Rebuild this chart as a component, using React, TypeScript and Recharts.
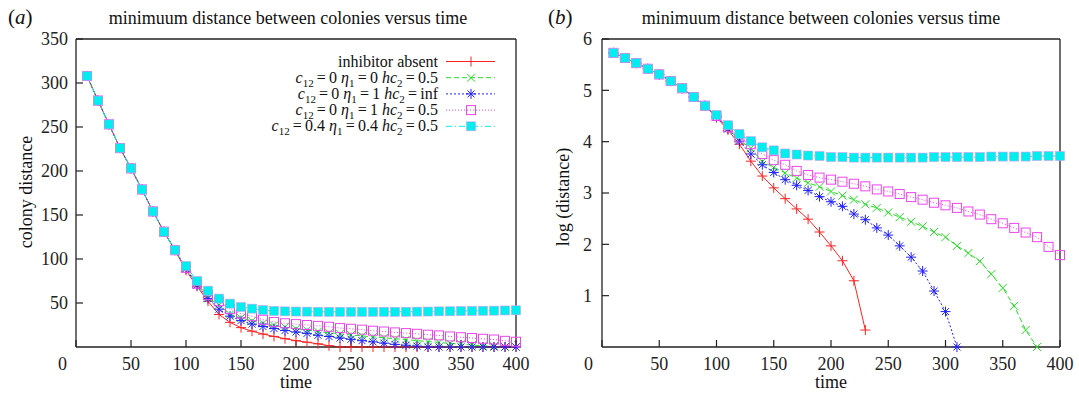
import React from 'react'
import { LineChart, Line, XAxis, YAxis, Legend } from 'recharts'

// sample times
const time = [
  10, 20, 30, 40, 50, 60, 70, 80, 90, 100, 110, 120, 130, 140, 150, 160, 170, 180, 190, 200,
  210, 220, 230, 240, 250, 260, 270, 280, 290, 300, 310, 320, 330, 340, 350, 360, 370, 380, 390, 400,
]

// panel (a): colony distance
const distAbsent = [
  308, 280, 253, 226, 203, 179, 154, 131, 110, 87, 69, 52, 37, 28, 22, 18, 14.7, 12, 9.4, 7.2,
  5.4, 3.6, 1.4, 0, 0, 0, 0, 0, 0, 0, 0, 0, 0, 0, 0, 0, 0, 0, 0, 0,
]
const distC0Eta0 = [
  308, 280, 253, 226, 203, 179, 154, 131, 110, 90, 71, 56, 48, 37, 33, 29.7, 26.8, 24.5, 22.6, 20.7,
  19.1, 17.6, 16.1, 15, 13.7, 12.6, 11.5, 10.5, 9.4, 8.5, 7.2, 6.2, 5.3, 4.1, 3.2, 2.2, 1.4, 1, 0, 0,
]
const distC0Eta1Inf = [
  308, 280, 253, 226, 203, 179, 154, 131, 110, 89, 70, 55, 43, 35, 30, 26, 23.3, 21, 18.7, 17,
  15.5, 13.3, 11.9, 10.2, 8.8, 7.2, 5.8, 4.4, 3, 2, 1, 0, 0, 0, 0, 0, 0, 0, 0, 0,
]
const distC0Eta1 = [
  308, 280, 253, 226, 203, 179, 154, 131, 110, 90, 72, 59, 52, 43, 38, 35, 31, 28.5, 27, 26,
  25, 24, 23, 21.5, 20.7, 19.7, 18.5, 17.6, 16.6, 15.8, 15, 14, 13.2, 12, 11.1, 10.2, 9.3, 8.5, 7, 6,
]
const distC04 = [
  308, 280, 253, 226, 203, 179, 154, 131, 110, 92, 75, 64, 55, 49.3, 45.5, 43.6, 42, 41, 40.5, 40.3,
  40.2, 40, 40, 40, 40, 40, 40, 40, 40, 40, 40.2, 40.3, 40.5, 40.6, 40.8, 41, 41.2, 41.3, 41.5, 41.7,
]

// panel (b): log (distance)
const logAbsent = [
  5.73, 5.63, 5.53, 5.42, 5.31, 5.18, 5.04, 4.87, 4.7, 4.47, 4.23, 3.95, 3.62, 3.33, 3.1, 2.89, 2.69, 2.49, 2.24, 1.97,
  1.68, 1.29, 0.33, null, null, null, null, null, null, null, null, null, null, null, null, null, null, null, null, null,
]
const logC0Eta0 = [
  5.73, 5.63, 5.53, 5.42, 5.31, 5.18, 5.04, 4.87, 4.7, 4.5, 4.26, 4.03, 3.87, 3.61, 3.5, 3.39, 3.29, 3.2, 3.12, 3.03,
  2.95, 2.87, 2.78, 2.71, 2.62, 2.53, 2.44, 2.35, 2.24, 2.14, 1.97, 1.83, 1.67, 1.42, 1.15, 0.8, 0.33, 0, null, null,
]
const logC0Eta1Inf = [
  5.73, 5.63, 5.53, 5.42, 5.31, 5.18, 5.04, 4.87, 4.7, 4.49, 4.25, 4.01, 3.76, 3.55, 3.4, 3.26, 3.15, 3.05, 2.93, 2.83,
  2.74, 2.59, 2.48, 2.32, 2.18, 1.97, 1.75, 1.48, 1.09, 0.69, 0, null, null, null, null, null, null, null, null, null,
]
const logC0Eta1 = [
  5.73, 5.63, 5.53, 5.42, 5.31, 5.18, 5.04, 4.87, 4.7, 4.5, 4.28, 4.08, 3.95, 3.76, 3.64, 3.55, 3.43, 3.35, 3.3, 3.26,
  3.22, 3.18, 3.13, 3.07, 3.03, 2.98, 2.92, 2.87, 2.81, 2.76, 2.71, 2.64, 2.58, 2.49, 2.41, 2.32, 2.23, 2.14, 1.95, 1.79,
]
const logC04 = [
  5.73, 5.63, 5.53, 5.42, 5.31, 5.18, 5.04, 4.87, 4.7, 4.52, 4.32, 4.15, 4.01, 3.89, 3.83, 3.77, 3.75, 3.73, 3.72, 3.7,
  3.7, 3.69, 3.69, 3.69, 3.69, 3.69, 3.69, 3.69, 3.7, 3.7, 3.7, 3.7, 3.7, 3.71, 3.71, 3.71, 3.71, 3.72, 3.72, 3.72,
]

const xTicks = [0, 50, 100, 150, 200, 250, 300, 350, 400]
const yTicksA = [50, 100, 150, 200, 250, 300, 350]
const yTicksB = [1, 2, 3, 4, 5, 6]

const FONT = "'Liberation Serif', 'DejaVu Serif', serif"
const INK = '#222'
const serifStyle = { fontFamily: FONT }

type MarkerKind = 'plus' | 'cross' | 'star' | 'box' | 'fbox'

const series: { key: string; color: string; dash?: string; marker: MarkerKind }[] = [
  { key: 'absent', color: '#ff2222', marker: 'plus' },
  { key: 'c0eta0', color: '#22dd22', dash: '5 3', marker: 'cross' },
  { key: 'c0eta1inf', color: '#2222ff', dash: '2 2', marker: 'star' },
  { key: 'c0eta1', color: '#ee44ee', dash: '1 2', marker: 'box' },
  { key: 'c04', color: '#00eeee', dash: '6 3 1 3', marker: 'fbox' },
]

const dataA = time.map((t, i) => ({
  t,
  absent: distAbsent[i],
  c0eta0: distC0Eta0[i],
  c0eta1inf: distC0Eta1Inf[i],
  c0eta1: distC0Eta1[i],
  c04: distC04[i],
}))

const dataB = time.map((t, i) => ({
  t,
  absent: logAbsent[i],
  c0eta0: logC0Eta0[i],
  c0eta1inf: logC0Eta1Inf[i],
  c0eta1: logC0Eta1[i],
  c04: logC04[i],
}))

const Marker = ({ kind, x, y, color }: { kind: MarkerKind; x: number; y: number; color: string }) => {
  if (kind === 'plus')
    return (
      <g stroke={color} strokeWidth={1}>
        <line x1={x - 5} y1={y} x2={x + 5} y2={y} />
        <line x1={x} y1={y - 5} x2={x} y2={y + 5} />
      </g>
    )
  if (kind === 'cross')
    return (
      <g stroke={color} strokeWidth={1}>
        <line x1={x - 4} y1={y - 4} x2={x + 4} y2={y + 4} />
        <line x1={x - 4} y1={y + 4} x2={x + 4} y2={y - 4} />
      </g>
    )
  if (kind === 'star')
    return (
      <g stroke={color} strokeWidth={1}>
        <line x1={x - 5} y1={y} x2={x + 5} y2={y} />
        <line x1={x} y1={y - 5} x2={x} y2={y + 5} />
        <line x1={x - 3.5} y1={y - 3.5} x2={x + 3.5} y2={y + 3.5} />
        <line x1={x - 3.5} y1={y + 3.5} x2={x + 3.5} y2={y - 3.5} />
      </g>
    )
  if (kind === 'box')
    return <rect x={x - 4.5} y={y - 4.5} width={9} height={9} fill="none" stroke={color} strokeWidth={1} />
  return <rect x={x - 4.5} y={y - 4.5} width={9} height={9} fill={color} stroke="#c9a0f0" strokeWidth={0.6} />
}

const makeDot = (s: (typeof series)[number]) => (props: any) => {
  const { cx, cy, index } = props
  const k = `${s.key}-${index}`
  if (cx == null || cy == null || Number.isNaN(cy)) return <g key={k} />
  return <g key={k}><Marker kind={s.marker} x={cx} y={cy} color={s.color} /></g>
}

const XTick = (props: any) => {
  const { x, y, payload } = props
  const zero = payload.value === 0
  return (
    <text
      x={zero ? x - 9 : x}
      y={y}
      dy="0.71em"
      textAnchor={zero ? 'end' : 'middle'}
      style={serifStyle}
      fontSize={18}
      fill={INK}
    >
      {payload.value}
    </text>
  )
}

// legend rows for panel (a)
const Sub = ({ children }: { children: React.ReactNode }) => (
  <tspan dy={4} fontSize={11}>
    {children}
  </tspan>
)

const legendRows: { key: string; label: React.ReactNode }[] = [
  { key: 'absent', label: 'inhibitor absent' },
  {
    key: 'c0eta0',
    label: (
      <>
        <tspan fontStyle="italic">c</tspan><Sub>12</Sub><tspan dy={-4}>{'\u2009=\u20090 '}</tspan>
        <tspan fontStyle="italic">η</tspan><Sub>1</Sub><tspan dy={-4}>{'\u2009=\u20090 '}</tspan>
        <tspan fontStyle="italic">hc</tspan><Sub>2</Sub><tspan dy={-4}>{'\u2009=\u20090.5'}</tspan>
      </>
    ),
  },
  {
    key: 'c0eta1inf',
    label: (
      <>
        <tspan fontStyle="italic">c</tspan><Sub>12</Sub><tspan dy={-4}>{'\u2009=\u20090 '}</tspan>
        <tspan fontStyle="italic">η</tspan><Sub>1</Sub><tspan dy={-4}>{'\u2009=\u20091 '}</tspan>
        <tspan fontStyle="italic">hc</tspan><Sub>2</Sub><tspan dy={-4}>{'\u2009=\u2009inf'}</tspan>
      </>
    ),
  },
  {
    key: 'c0eta1',
    label: (
      <>
        <tspan fontStyle="italic">c</tspan><Sub>12</Sub><tspan dy={-4}>{'\u2009=\u20090 '}</tspan>
        <tspan fontStyle="italic">η</tspan><Sub>1</Sub><tspan dy={-4}>{'\u2009=\u20091 '}</tspan>
        <tspan fontStyle="italic">hc</tspan><Sub>2</Sub><tspan dy={-4}>{'\u2009=\u20090.5'}</tspan>
      </>
    ),
  },
  {
    key: 'c04',
    label: (
      <>
        <tspan fontStyle="italic">c</tspan><Sub>12</Sub><tspan dy={-4}>{'\u2009=\u20090.4 '}</tspan>
        <tspan fontStyle="italic">η</tspan><Sub>1</Sub><tspan dy={-4}>{'\u2009=\u20090.4 '}</tspan>
        <tspan fontStyle="italic">hc</tspan><Sub>2</Sub><tspan dy={-4}>{'\u2009=\u20090.5'}</tspan>
      </>
    ),
  },
]

const LegendBox = () => (
  <svg width={540} height={140} style={{ display: 'block' }}>
    {legendRows.map((row, i) => {
      const s = series.find((d) => d.key === row.key)!
      const cy = 61.5 + i * 16.2
      return (
        <g key={row.key}>
          <text x={438} y={cy + 5} textAnchor="end" style={serifStyle} fontSize={16} fill="#111">
            {row.label}
          </text>
          <line x1={446} y1={cy} x2={495} y2={cy} stroke={s.color} strokeWidth={1} strokeDasharray={s.dash} />
          <Marker kind={s.marker} x={471} y={cy} color={s.color} />
        </g>
      )
    })}
  </svg>
)

const axisLine = { stroke: INK, strokeWidth: 1.3 }
const tickLine = { stroke: INK, strokeWidth: 1.2 }

const Panel = ({
  data,
  width,
  yWidth,
  right,
  yDomain,
  yTicks,
  yMargin,
  legend,
}: {
  data: any[]
  width: number
  yWidth: number
  right: number
  yDomain: [number, number]
  yTicks: number[]
  yMargin: number
  legend?: boolean
}) => (
  <LineChart width={width} height={396} data={data} margin={{ top: 38, right, bottom: 9, left: 0 }}>
    <XAxis
      dataKey="t"
      type="number"
      domain={[0, 400]}
      ticks={xTicks}
      height={40}
      tickSize={-7}
      tickMargin={17}
      axisLine={axisLine}
      tickLine={tickLine}
      tick={<XTick />}
    />
    <XAxis
      xAxisId="top"
      orientation="top"
      type="number"
      domain={[0, 400]}
      ticks={xTicks}
      height={1}
      tickSize={-7}
      axisLine={axisLine}
      tickLine={tickLine}
      tick={false}
    />
    <YAxis
      type="number"
      domain={yDomain}
      ticks={yTicks}
      width={yWidth}
      tickSize={-7}
      tickMargin={yMargin}
      axisLine={axisLine}
      tickLine={tickLine}
      tick={{ style: serifStyle, fontSize: 18, fill: INK }}
    />
    <YAxis
      yAxisId="right"
      orientation="right"
      type="number"
      domain={yDomain}
      ticks={yTicks}
      width={1}
      tickSize={-7}
      axisLine={axisLine}
      tickLine={tickLine}
      tick={false}
    />
    {series.map((s) => (
      <Line
        key={s.key}
        dataKey={s.key}
        type="linear"
        stroke={s.color}
        strokeWidth={1}
        strokeDasharray={s.dash}
        dot={makeDot(s)}
        activeDot={false}
        isAnimationActive={false}
        connectNulls={false}
      />
    ))}
    {legend && (
      <Legend
        layout="vertical"
        align="center"
        verticalAlign="middle"
        wrapperStyle={{ left: 0, top: 0, width: 540, height: 140 }}
        content={() => <LegendBox />}
      />
    )}
  </LineChart>
)

const App: React.FC = () => {
  const title = 'minimuum distance between colonies versus time'
  return (
    <div
      style={{
        position: 'absolute',
        left: 0,
        top: 0,
        width: 1079,
        height: 396,
        background: '#fff',
        fontFamily: FONT,
        overflow: 'hidden',
      }}
    >
      <div style={{ position: 'absolute', left: 0, top: 0 }}>
        <Panel data={dataA} width={540} yWidth={76} right={23} yDomain={[0, 350]} yTicks={yTicksA} yMargin={15} legend />
      </div>
      <div style={{ position: 'absolute', left: 540, top: 0 }}>
        <Panel data={dataB} width={539} yWidth={62} right={18} yDomain={[0, 6]} yTicks={yTicksB} yMargin={17} />
      </div>
      <svg
        width={1079}
        height={396}
        style={{ position: 'absolute', left: 0, top: 0, pointerEvents: 'none', fontFamily: FONT }}
        fill="#111"
      >
        <text x={8} y={24} fontSize={21}>
          (<tspan fontStyle="italic">a</tspan>)
        </text>
        <text x={548} y={24} fontSize={21}>
          (<tspan fontStyle="italic">b</tspan>)
        </text>
        <text x={288} y={24} fontSize={18} textAnchor="middle">
          {title}
        </text>
        <text x={821} y={24} fontSize={18} textAnchor="middle">
          {title}
        </text>
        <text transform="translate(32,192) rotate(-90)" fontSize={18} textAnchor="middle">
          colony distance
        </text>
        <text transform="translate(569,197) rotate(-90)" fontSize={18} textAnchor="middle">
          log (distance)
        </text>
        <text x={296} y={388} fontSize={18} textAnchor="middle">
          time
        </text>
        <text x={831} y={388} fontSize={18} textAnchor="middle">
          time
        </text>
      </svg>
    </div>
  )
}

export default App
